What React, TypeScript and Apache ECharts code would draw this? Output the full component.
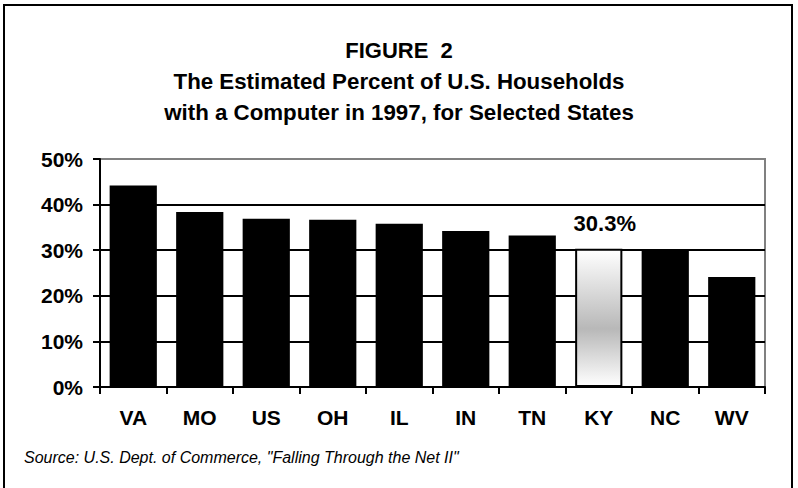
import React, { useEffect, useRef } from "react";
import * as echarts from "echarts";

const categories = ["VA", "MO", "US", "OH", "IL", "IN", "TN", "KY", "NC", "WV"];
const values = [44.2, 38.4, 36.9, 36.7, 35.8, 34.2, 33.2, 30.3, 30.1, 24.1];
const highlighted = "KY";
const yTicks = [0, 10, 20, 30, 40, 50];
const titleLines = [
  "FIGURE  2",
  "The Estimated Percent of U.S. Households",
  "with a Computer in 1997, for Selected States",
];
const sourceText = 'Source: U.S. Dept. of Commerce, "Falling Through the Net II"';

const WIDE = "'Liberation Sans', Arial, sans-serif";

export default function App() {
  const ref = useRef<HTMLDivElement>(null);
  useEffect(() => {
    if (!ref.current) return;
    const chart = echarts.init(ref.current, undefined, { renderer: "svg" });
    const data = categories.map((c, i) => {
      if (c === highlighted) {
        return {
          value: values[i],
          itemStyle: {
            color: new echarts.graphic.LinearGradient(0, 0, 0, 1, [
              { offset: 0, color: "#ffffff" },
              { offset: 0.58, color: "#b8b8b8" },
              { offset: 1, color: "#ffffff" },
            ]),
            borderColor: "#000",
            borderWidth: 2,
          },
          label: {
            show: true,
            position: "top",
            distance: 14,
            offset: [6, 0],
            formatter: (p: any) => p.value.toFixed(1) + "%",
            fontFamily: WIDE,
            fontWeight: "bold",
            fontSize: 22,
            color: "#000",
          },
        };
      }
      return { value: values[i] };
    });
    chart.setOption({
      animation: false,
      backgroundColor: "#fff",
      title: [
        { text: titleLines[0], left: "center", top: 34, textStyle: { fontFamily: WIDE, fontWeight: "bold", fontSize: 22, color: "#000" } },
        { text: titleLines[1], left: "center", top: 65, textStyle: { fontFamily: WIDE, fontWeight: "bold", fontSize: 22.3, color: "#000" } },
        { text: titleLines[2], left: "center", top: 96, textStyle: { fontFamily: WIDE, fontWeight: "bold", fontSize: 22.3, color: "#000" } },
        { text: sourceText, left: 19, top: 444, textStyle: { fontFamily: WIDE, fontStyle: "italic", fontWeight: "normal", fontSize: 16, color: "#000" } },
      ],
      graphic: [
        { type: "rect", shape: { x: 4, y: 5, width: 788, height: 492 }, style: { fill: "none", stroke: "#000", lineWidth: 2 }, silent: true },
      ],
      grid: {
        left: 100,
        top: 159,
        width: 665,
        height: 228,
        show: true,
        borderColor: "#808080",
        borderWidth: 2,
        backgroundColor: "transparent",
      },
      xAxis: {
        type: "category",
        data: categories,
        axisLine: { lineStyle: { color: "#000", width: 2 } },
        axisTick: { show: true, length: 7, lineStyle: { color: "#000", width: 2 } },
        axisLabel: { margin: 20, fontFamily: WIDE, fontWeight: "bold", fontSize: 21, color: "#000" },
        splitLine: { show: false },
      },
      yAxis: {
        type: "value",
        min: yTicks[0],
        max: yTicks[yTicks.length - 1],
        interval: 10,
        axisLine: { show: true, lineStyle: { color: "#000", width: 2 } },
        axisTick: { show: true, length: 7, lineStyle: { color: "#000", width: 2 } },
        axisLabel: { margin: 17, fontFamily: WIDE, fontWeight: "bold", fontSize: 21, color: "#000", formatter: (v: number) => v + "%" },
        splitLine: { show: true, lineStyle: { color: ["#000", "#000", "#000", "#000", "#000", "#808080"], width: 2 } },
      },
      series: [
        {
          type: "bar",
          data,
          barCategoryGap: "29%",
          itemStyle: { color: "#000" },
        },
      ],
    });
    return () => chart.dispose();
  }, []);
  return <div ref={ref} style={{ position: "fixed", left: 0, top: 0, width: 798, height: 488 }} />;
}
